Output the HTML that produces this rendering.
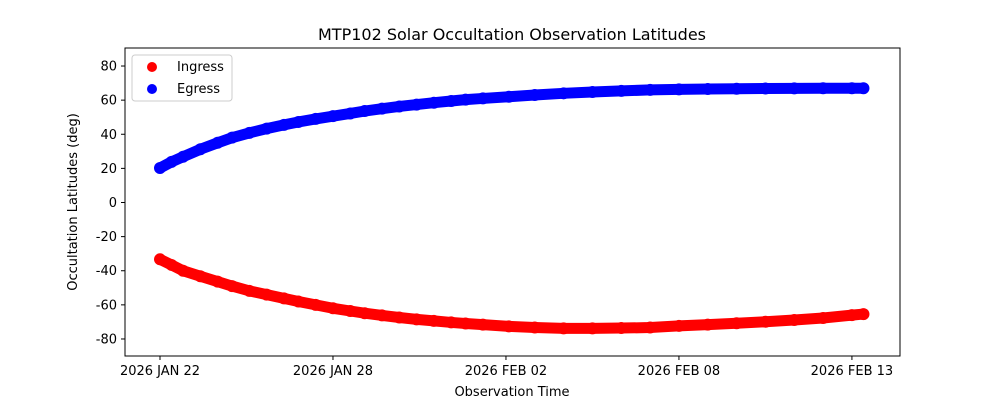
<!DOCTYPE html>
<html><head><meta charset="utf-8"><style>
body{margin:0;background:#fff;}
svg text{font-family:"DejaVu Sans","Liberation Sans",sans-serif;fill:#000;}
</style></head><body>
<svg id="chart" width="1000" height="400" xmlns="http://www.w3.org/2000/svg">
<rect width="1000" height="400" fill="#fff"/>
<text x="512" y="40" text-anchor="middle" font-size="16">MTP102 Solar Occultation Observation Latitudes</text>
<g id="marks"></g>
<rect x="125" y="48" width="775" height="308" fill="none" stroke="#000" stroke-width="1"/>
<g id="axes"></g>
<text x="512" y="396" text-anchor="middle" font-size="13">Observation Time</text>
<text transform="translate(77,202) rotate(-90)" text-anchor="middle" font-size="13">Occultation Latitudes (deg)</text>
<g>
<rect x="132" y="55" width="100" height="46" rx="3" fill="#fff" stroke="#ccc"/>
<circle cx="152" cy="67" r="5" fill="red"/>
<text x="177" y="71" font-size="13">Ingress</text>
<circle cx="152" cy="89" r="5" fill="blue"/>
<text x="177" y="93" font-size="13">Egress</text>
</g>
</svg>
<script>
const days = [0,0.4,0.8,1.4,2,2.5,3.1,3.7,4.3,4.8,5.4,6,6.6,7.1,7.7,8.3,8.9,9.5,10.1,10.6,11.2,12.1,13,14,15,16,17,18,19,20,21,22,23,24,24.4];
const egress = [20.2,23.8,26.8,31.2,35,38,40.8,43.3,45.5,47.2,49,50.6,52.2,53.6,55,56.3,57.4,58.5,59.5,60.3,61,62,63,64,64.8,65.4,66,66.3,66.5,66.7,66.8,66.9,67,67,67];
const ingress = [-33.3,-36.6,-40,-43.2,-46.4,-49,-51.8,-54,-56.2,-58,-60,-62,-63.6,-64.9,-66.2,-67.4,-68.5,-69.4,-70.3,-70.9,-71.6,-72.6,-73.3,-73.8,-73.8,-73.6,-73.3,-72.3,-71.6,-70.8,-69.9,-68.9,-67.7,-66,-65.4];
const xTicks = [0,6,12,18,24];
const xTickLabels = ["2026 JAN 22","2026 JAN 28","2026 FEB 02","2026 FEB 08","2026 FEB 13"];
const yTicks = [-80,-60,-40,-20,0,20,40,60,80];

const NS="http://www.w3.org/2000/svg";
const xs = d => 160 + d*28.83;
const ys = v => 202.5 - v*1.706;
const marks=document.getElementById('marks'), axes=document.getElementById('axes');
function mk(tag,attrs,parent){const e=document.createElementNS(NS,tag);for(const k in attrs)e.setAttribute(k,attrs[k]);parent.appendChild(e);return e;}
function series(vals,color,name){
  const g=mk('g',{},marks);
  
  
  const pts=days.map((d,i)=>xs(d)+','+ys(vals[i])).join(' ');
  const pl=mk('polyline',{points:pts,fill:'none',stroke:color,'stroke-width':11,'stroke-linejoin':'round','stroke-linecap':'round'},g);
  
  
  days.forEach((d,i)=>{
    const c=mk('circle',{cx:xs(d),cy:ys(vals[i]),r:6,fill:color},g);
    
    
  });
}
series(ingress,'red','ingress');
series(egress,'blue','egress');
xTicks.forEach((t,i)=>{
  const x=xs(t);
  const l=mk('line',{x1:x,x2:x,y1:356,y2:360,stroke:'#000'},axes);
  
  
  const tx=mk('text',{x:x,y:375,'text-anchor':'middle','font-size':13},axes);
  tx.textContent=xTickLabels[i];
  
  
});
yTicks.forEach(t=>{
  const y=ys(t);
  const l=mk('line',{x1:121,x2:125,y1:y,y2:y,stroke:'#000'},axes);
  
  
  const tx=mk('text',{x:117,y:y+4.5,'text-anchor':'end','font-size':13},axes);
  tx.textContent=t;
  
  
});
</script>
</body></html>
